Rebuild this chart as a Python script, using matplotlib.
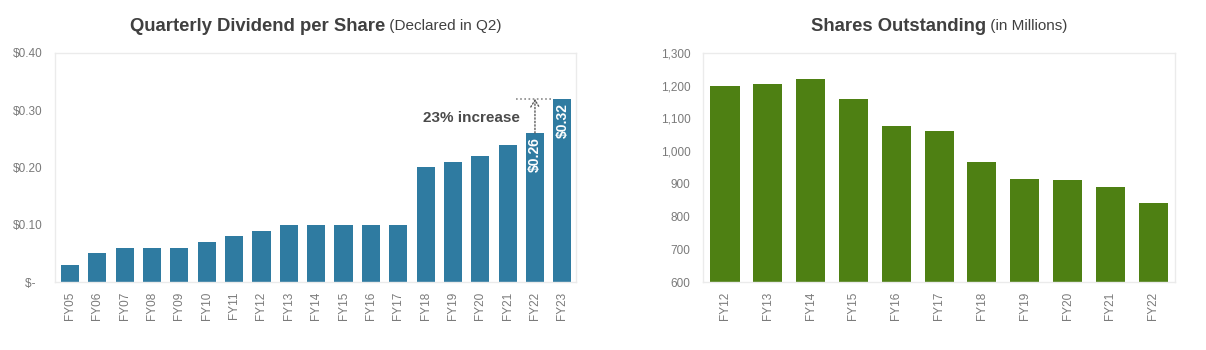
import matplotlib
matplotlib.use("Agg")
import matplotlib.pyplot as plt
from matplotlib.ticker import FuncFormatter

plt.rcParams['font.family'] = ['Liberation Sans', 'DejaVu Sans']

# Dividend per share, declared in Q2 each fiscal year
div_years = ["FY05", "FY06", "FY07", "FY08", "FY09", "FY10", "FY11", "FY12", "FY13", "FY14",
             "FY15", "FY16", "FY17", "FY18", "FY19", "FY20", "FY21", "FY22", "FY23"]
dividends = [0.03, 0.05, 0.06, 0.06, 0.06, 0.07, 0.08, 0.09, 0.10, 0.10,
             0.10, 0.10, 0.10, 0.20, 0.21, 0.22, 0.24, 0.26, 0.32]

# Shares outstanding (millions)
share_years = ["FY12", "FY13", "FY14", "FY15", "FY16", "FY17", "FY18", "FY19", "FY20", "FY21", "FY22"]
shares = [1198, 1204, 1221, 1160, 1078, 1060, 966, 916, 913, 891, 843]

BLUE = "#2f7ba1"
GREEN = "#4e8013"
TICK_GRAY = "#7a7a7a"
TITLE_GRAY = "#404040"

fig = plt.figure(figsize=(12.06, 3.5), dpi=100)
ax1 = fig.add_axes([0.0456, 0.194, 0.432, 0.655])
ax2 = fig.add_axes([0.583, 0.194, 0.391, 0.655])


def style_axes(ax):
    for sp in ax.spines.values():
        sp.set_color("#ebebeb")
        sp.set_linewidth(1.0)
    ax.tick_params(length=0, colors=TICK_GRAY, labelsize=8.5)
    ax.tick_params(axis="y", pad=9)
    ax.tick_params(axis="x", pad=7, labelrotation=90)


def two_part_title(ax, bold, light, y=0.925):
    # bold heading followed by a lighter note, centred over the axes
    r = fig.canvas.get_renderer()
    t1 = fig.text(0, y, bold, fontsize=13.3, fontweight="bold", color=TITLE_GRAY, va="center")
    t2 = fig.text(0, y, " " + light, fontsize=11, color=TITLE_GRAY, va="center")
    w1 = t1.get_window_extent(r).width / fig.bbox.width
    w2 = t2.get_window_extent(r).width / fig.bbox.width
    pos = ax.get_position()
    cx = (pos.x0 + pos.x1) / 2
    x0 = cx - (w1 + w2) / 2
    t1.set_x(x0)
    t2.set_x(x0 + w1)


# --- dividend chart ---
x1 = range(len(div_years))
ax1.bar(x1, dividends, width=0.66, color=BLUE)
ax1.set_xlim(-0.55, len(div_years) - 0.5)
ax1.set_ylim(0, 0.40)
ax1.set_yticks([0, 0.1, 0.2, 0.3, 0.4])
ax1.yaxis.set_major_formatter(FuncFormatter(lambda v, p: "$-  " if v == 0 else f"${v:.2f}"))
ax1.set_xticks(list(x1))
ax1.set_xticklabels(div_years)
style_axes(ax1)

# value labels on the last two bars
for i in (len(dividends) - 2, len(dividends) - 1):
    ax1.annotate(f"${dividends[i]:.2f}", (i, dividends[i]), xytext=(0, -3),
                 textcoords="offset points", rotation=90, ha="center", va="top",
                 color="white", fontsize=10, fontweight="bold")

# increase marker between FY22 and FY23
prev, last = dividends[-2], dividends[-1]
ip = len(dividends) - 2
ax1.annotate("", xy=(ip, last), xytext=(ip, prev),
             arrowprops=dict(arrowstyle="->,head_length=0.5,head_width=0.3", linestyle=(0, (1, 1.5)),
                             color="#595959", lw=1.0, shrinkA=0, shrinkB=0))
ax1.plot([ip - 0.7, ip + 0.67], [last, last], linestyle=(0, (1, 1.5)), color="#8a8a8a", lw=1.2)
ax1.text(ip - 0.55, 0.286, f"{round((last / prev - 1) * 100)}% increase", ha="right", va="center",
         fontsize=11, fontweight="bold", color="#4a4a4a")

# --- shares chart ---
x2 = range(len(share_years))
ax2.bar(x2, shares, width=0.68, color=GREEN)
ax2.set_xlim(-0.51, len(share_years) - 0.5)
ax2.set_ylim(600, 1300)
ax2.set_yticks(range(600, 1301, 100))
ax2.yaxis.set_major_formatter(FuncFormatter(lambda v, p: f"{int(v):,}"))
ax2.set_xticks(list(x2))
ax2.set_xticklabels(share_years)
style_axes(ax2)

two_part_title(ax1, "Quarterly Dividend per Share", "(Declared in Q2)")
two_part_title(ax2, "Shares Outstanding", "(in Millions)")

fig.savefig("out.png", dpi=100)
